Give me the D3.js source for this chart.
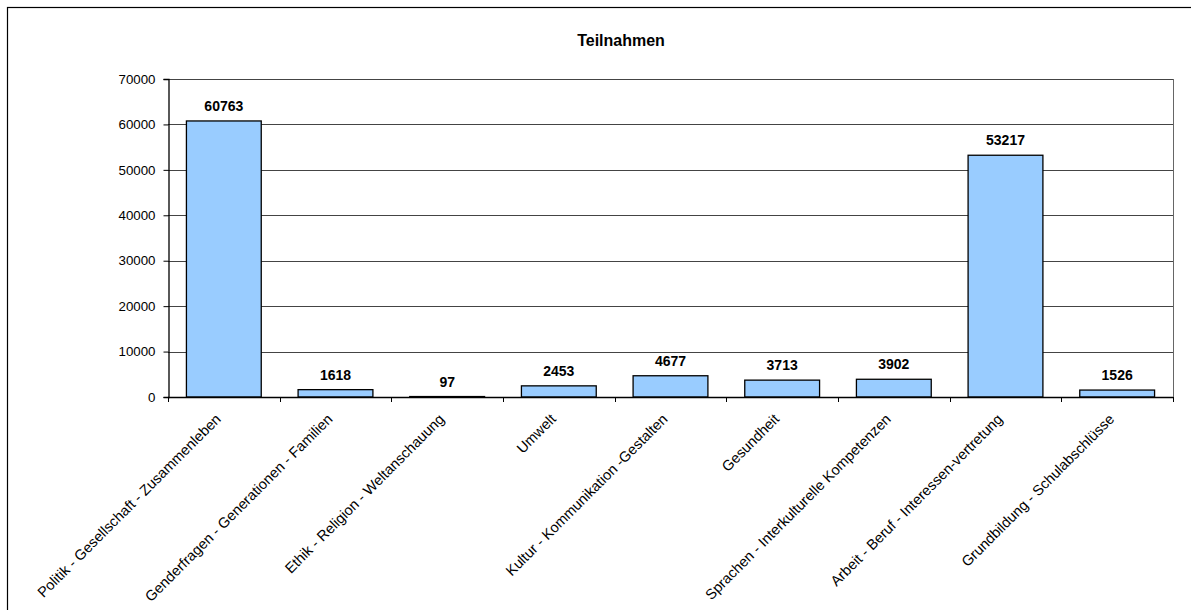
<!DOCTYPE html>
<html><head><meta charset="utf-8">
<script src="https://cdn.jsdelivr.net/npm/d3@7"></script>
<style>body{margin:0;background:#fff;overflow:hidden}text{font-family:"Liberation Sans",Arial,sans-serif}</style>
</head><body>
<svg id="c" width="1191" height="610"></svg>
<script>
const categories = ["Politik - Gesellschaft - Zusammenleben","Genderfragen - Generationen - Familien","Ethik - Religion - Weltanschauung","Umwelt","Kultur - Kommunikation -Gestalten","Gesundheit","Sprachen - Interkulturelle Kompetenzen","Arbeit - Beruf - Interessen-vertretung","Grundbildung - Schulabschlüsse"];
const values = [60763,1618,97,2453,4677,3713,3902,53217,1526];
const yTicks = [0,10000,20000,30000,40000,50000,60000,70000];
const title = "Teilnahmen";

const svg = d3.select("#c");
const L=168, R=1173, T=79, B=397;
svg.append("rect").attr("x",7.5).attr("y",7.5).attr("width",1300).attr("height",700).attr("fill","none").attr("stroke","#000").attr("stroke-width",1.2);
const x = d3.scaleBand().domain(categories).range([L,R]).paddingInner(0.33).paddingOuter(0.165);
const y = d3.scaleLinear().domain([0,70000]).range([B,T]);

// gridlines
svg.append("g").selectAll("line").data(yTicks.slice(1)).join("line")
 .attr("x1",L).attr("x2",R).attr("y1",d=>Math.round(y(d))+0.5).attr("y2",d=>Math.round(y(d))+0.5)
 .attr("stroke","#444").attr("stroke-width",1);
// right border of plot
svg.append("line").attr("x1",R+0.5).attr("x2",R+0.5).attr("y1",T).attr("y2",B).attr("stroke","#666");

// bars
svg.append("g").selectAll("rect").data(values).join("rect")
 .attr("x",(d,i)=>x(categories[i])).attr("width",x.bandwidth())
 .attr("y",d=>y(d)).attr("height",d=>B-y(d))
 .attr("fill","#99ccff").attr("stroke","#000").attr("stroke-width",1.3);

// value labels
svg.append("g").selectAll("text").data(values).join("text")
 .attr("x",(d,i)=>x(categories[i])+x.bandwidth()/2).attr("y",d=>y(d)-10)
 .attr("text-anchor","middle").attr("font-size",14).attr("font-weight","bold").text(d=>d);

// y axis
const yAxis = d3.axisLeft(y).tickValues(yTicks).tickSize(5).tickPadding(8).tickFormat(d3.format("d"));
const gy = svg.append("g").attr("transform",`translate(${L+0.5},0)`).call(yAxis);
gy.select(".domain").attr("stroke","#000").attr("stroke-width",1.3);
gy.selectAll(".tick line").attr("stroke","#000");
gy.selectAll("text").attr("font-size",13.3).attr("fill","#000").style("font-family","Liberation Sans, Arial");

// x axis
const bounds = d3.range(categories.length+1).map(i=>L+i*(R-L)/categories.length);
svg.append("line").attr("x1",L).attr("x2",R).attr("y1",B+0.5).attr("y2",B+0.5).attr("stroke","#000").attr("stroke-width",1.3);
svg.append("g").selectAll("line").data(bounds).join("line")
 .attr("x1",d=>Math.round(d)+0.5).attr("x2",d=>Math.round(d)+0.5).attr("y1",B).attr("y2",B+5).attr("stroke","#000");
svg.append("g").selectAll("text").data(categories).join("text")
 .attr("transform",d=>`translate(${x(d)+x.bandwidth()/2-2},${B+23}) rotate(-45)`)
 .attr("text-anchor","end").attr("font-size",14.5).attr("fill","#000").text(d=>d);

svg.append("text").attr("x",621).attr("y",46).attr("text-anchor","middle").attr("font-size",16).attr("font-weight","bold").text(title);
</script>
</body></html>
